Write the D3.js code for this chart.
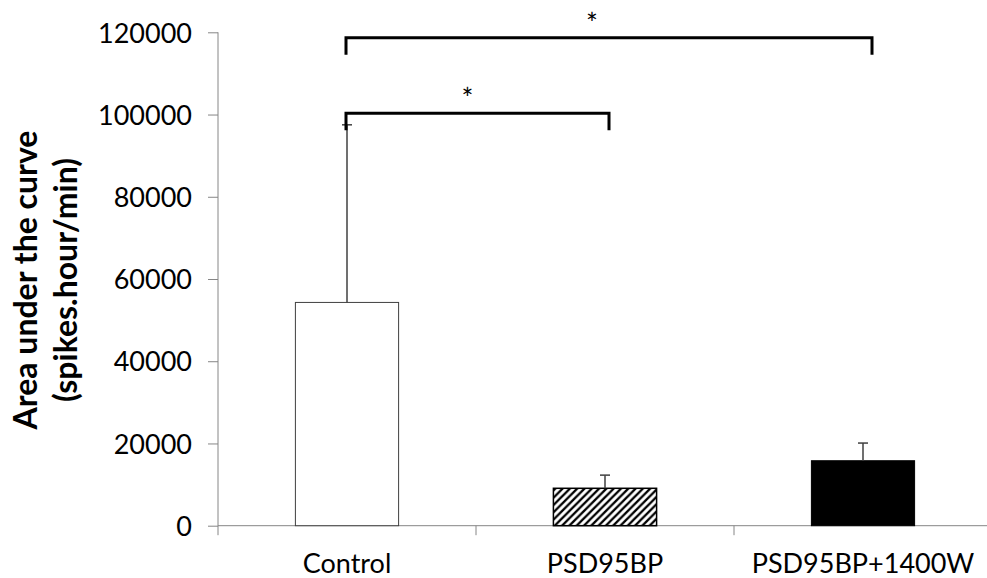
<!DOCTYPE html>
<html>
<head>
<meta charset="utf-8">
<script src="https://cdn.jsdelivr.net/npm/d3@7"></script>
<style>
  html, body { margin: 0; padding: 0; background: #fff; }
  svg { display: block; }
  svg text { font-family: Lato, "Noto Sans", sans-serif; }
</style>
</head>
<body>
<svg id="chart" width="987" height="578"></svg>
<script>
// Groups, mean area under the curve and upper error (SD)
const categories = ["Control", "PSD95BP", "PSD95BP+1400W"];
const means = [54300, 9100, 15800];
const errors = [43200, 3200, 4300];
const yTicks = [0, 20000, 40000, 60000, 80000, 100000, 120000];
// Significance brackets: pair of groups, bracket level, label
const bracketFrom = ["Control", "Control"];
const bracketTo = ["PSD95BP+1400W", "PSD95BP"];
const bracketLevel = [118700, 100300];
const bracketLabel = ["*", "*"];

const svg = d3.select("#chart");
const plotLeft = 218, plotRight = 992, plotTop = 32.3, plotBottom = 525.7;

const x = d3.scaleBand().domain(categories).range([plotLeft, plotRight]).padding(0);
const y = d3.scaleLinear().domain([0, 120000]).range([plotBottom, plotTop]);
const barW = x.bandwidth() * 0.4;
const cx = c => x(c) + x.bandwidth() / 2;

// hatch pattern for the second group
const defs = svg.append("defs");
const pat = defs.append("pattern")
  .attr("id", "hatch").attr("patternUnits", "userSpaceOnUse")
  .attr("width", 7.3).attr("height", 7.3);
pat.append("rect").attr("width", 7.3).attr("height", 7.3).attr("fill", "#fff");
pat.append("path")
  .attr("d", "M-1,1 l2,-2 M0,7.3 l7.3,-7.3 M6.3,8.3 l2,-2")
  .attr("stroke", "#000").attr("stroke-width", 2.3);

const fills = ["#fff", "url(#hatch)", "#000"];
const strokes = ["#404040", "#000", "#000"];

// y axis
const yAxis = svg.append("g")
  .attr("transform", `translate(${plotLeft},0)`)
  .call(d3.axisLeft(y).tickValues(yTicks).tickSize(10).tickPadding(16).tickFormat(d3.format("d")))
  .attr("font-family", null);
yAxis.select(".domain").attr("stroke", "#868686").attr("d", `M0,${plotTop}V${plotBottom + 9.5}`);
yAxis.selectAll(".tick line").attr("stroke", "#868686");
yAxis.selectAll(".tick text").attr("font-size", 27).attr("fill", "#000").attr("dy", "0.36em");

// x axis
const xAxis = svg.append("g")
  .attr("transform", `translate(0,${plotBottom})`)
  .call(d3.axisBottom(x).tickSize(0).tickPadding(0))
  .attr("font-family", null);
xAxis.select(".domain").attr("stroke", "#868686").attr("d", `M${plotLeft},0H${plotRight}`);
xAxis.selectAll(".tick text").attr("font-size", 27).attr("fill", "#000")
  .attr("y", 47).attr("dy", 0);
// category separators
xAxis.selectAll("line.sep")
  .data(categories.slice(1))
  .join("line").attr("class", "sep")
  .attr("x1", d => x(d)).attr("x2", d => x(d))
  .attr("y1", 0).attr("y2", 9.5)
  .attr("stroke", "#868686");

// bars
svg.append("g").selectAll("rect")
  .data(categories)
  .join("rect")
  .attr("x", d => cx(d) - barW / 2)
  .attr("y", (d, i) => y(means[i]))
  .attr("width", barW)
  .attr("height", (d, i) => y(0) - y(means[i]))
  .attr("fill", (d, i) => fills[i])
  .attr("stroke", (d, i) => strokes[i])
  .attr("stroke-width", (d, i) => i === 1 ? 1.5 : 1);

// upper error bars
const eb = svg.append("g").attr("stroke", "#404040").attr("stroke-width", 1.5);
categories.forEach((c, i) => {
  eb.append("line").attr("x1", cx(c)).attr("x2", cx(c))
    .attr("y1", y(means[i])).attr("y2", y(means[i] + errors[i]));
  eb.append("line").attr("x1", cx(c) - 5).attr("x2", cx(c) + 5)
    .attr("y1", y(means[i] + errors[i])).attr("y2", y(means[i] + errors[i]));
});

// significance brackets
const br = svg.append("g");
bracketFrom.forEach((f, i) => {
  const x1 = cx(f) - 1;
  const x2 = cx(bracketTo[i]) + (i === 0 ? 9 : 4);
  const yl = y(bracketLevel[i]);
  br.append("path")
    .attr("d", `M${x1},${yl + 17}V${yl}H${x2}V${yl + 17}`)
    .attr("fill", "none").attr("stroke", "#000").attr("stroke-width", 3);
  br.append("text")
    .attr("x", (x1 + x2) / 2 + (i === 0 ? -17 : -10)).attr("y", yl - 4)
    .attr("text-anchor", "middle").attr("font-size", 28).text(bracketLabel[i]);
});

// y axis title
const title = svg.append("text")
  .attr("transform", "translate(37,280) rotate(-90)")
  .attr("text-anchor", "middle").attr("font-size", 32).attr("font-weight", "bold");
title.append("tspan").attr("x", 0).attr("y", 0).text("Area under the curve");
title.append("tspan").attr("x", 0).attr("y", 40).text("(spikes.hour/min)");
</script>
</body>
</html>
